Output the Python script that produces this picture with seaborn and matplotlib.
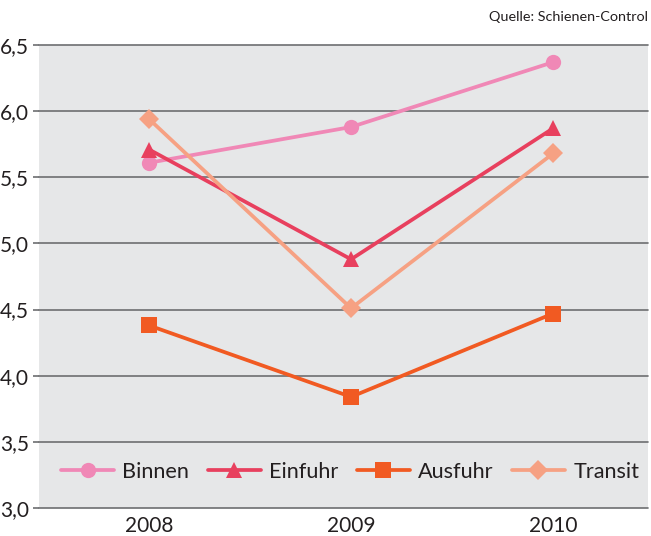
import pandas as pd
import matplotlib
matplotlib.use("Agg")
import matplotlib.pyplot as plt
import seaborn as sns
from matplotlib.lines import Line2D

# Data
years = [2008, 2009, 2010]
binnen = [5.61, 5.88, 6.37]
einfuhr = [5.71, 4.88, 5.87]
ausfuhr = [4.38, 3.84, 4.47]
transit = [5.94, 4.51, 5.68]
series_names = ['Binnen', 'Einfuhr', 'Ausfuhr', 'Transit']
y_ticks = [3.0, 3.5, 4.0, 4.5, 5.0, 5.5, 6.0, 6.5]

colors = {'Binnen': '#f088b6', 'Einfuhr': '#e8405e', 'Ausfuhr': '#f15a22', 'Transit': '#f6a183'}
markers = {'Binnen': 'o', 'Einfuhr': '^', 'Ausfuhr': 's', 'Transit': 'D'}
msizes = {'Binnen': 11, 'Einfuhr': 11, 'Ausfuhr': 11.5, 'Transit': 10.5}

df = pd.DataFrame({
    'year': years * 4,
    'value': binnen + einfuhr + ausfuhr + transit,
    'series': [s for s in series_names for _ in years],
})

sns.set_style('white')
plt.rcParams['font.family'] = ['Lato', 'DejaVu Sans']

fig = plt.figure(figsize=(6.51, 5.36), dpi=100)
ax = fig.add_axes([39 / 651, 1 - 508 / 536, (648 - 39) / 651, (508 - 45) / 536])
ax.set_facecolor('#e6e7e8')

for name in series_names:
    sub = df[df['series'] == name]
    sns.lineplot(data=sub, x='year', y='value', ax=ax, color=colors[name],
                 marker=markers[name], markersize=msizes[name], markeredgewidth=0,
                 linewidth=2.7, legend=False, zorder=3)

ax.set_xlim(2008 - 0.545, 2010 + 0.47)
ax.set_ylim(3.0, 6.5)
ax.set_yticks(y_ticks)
ax.set_yticklabels([f'{v:.1f}'.replace('.', ',') for v in y_ticks])
ax.set_xticks(years)
ax.set_xticklabels([str(y) for y in years])
ax.set_xlabel('')
ax.set_ylabel('')

grid_color = '#6d6e71'
ax.yaxis.grid(True, color=grid_color, linewidth=1.2, zorder=1)
ax.set_axisbelow(True)
for gl in ax.yaxis.get_gridlines():
    gl.set_clip_on(False)
for sp in ax.spines.values():
    sp.set_visible(False)
ax.tick_params(axis='y', length=4, width=1.2, color=grid_color, pad=3,
               labelsize=15, labelcolor='#231f20', left=True)
ax.tick_params(axis='x', length=0, pad=6, labelsize=15, labelcolor='#231f20')

handles = [Line2D([], [], color=colors[n], marker=markers[n], markersize=msizes[n],
                  markeredgewidth=0, linewidth=2.7) for n in series_names]
ax.legend(handles, series_names, loc='center', bbox_to_anchor=(0.511, 36 / 463),
          ncol=4, frameon=False, fontsize=15.6, handlelength=2.45,
          handletextpad=0.38, columnspacing=0.85, labelcolor='#231f20')

fig.text(648 / 651, 1 - 17 / 536, 'Quelle: Schienen-Control', ha='right', va='center',
         fontsize=10.4, color='#231f20')

fig.savefig('out.png', dpi=100)
